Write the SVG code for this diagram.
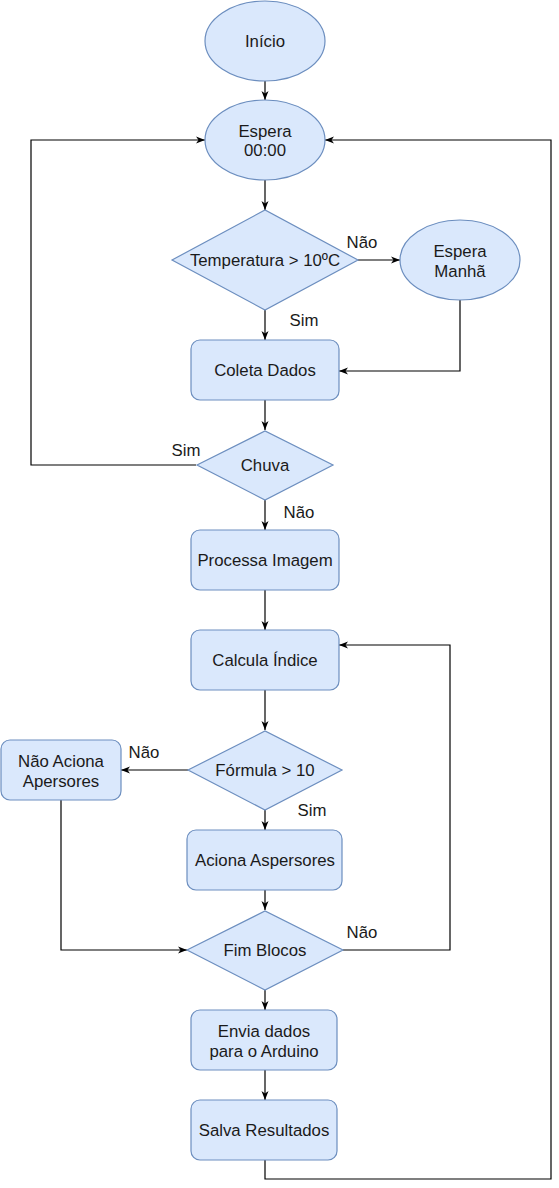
<svg xmlns="http://www.w3.org/2000/svg" width="559" height="1188" viewBox="0 0 559 1188">
  <style>
    .node { fill: #dae8fc; stroke: #6c8ebf; stroke-width: 1.2; }
    .t { font-family: "Liberation Sans", Arial, Helvetica, sans-serif; font-size: 16.8px; fill: #1a1a1a; text-anchor: middle; }
    .lbl { font-family: "Liberation Sans", Arial, Helvetica, sans-serif; font-size: 16.8px; fill: #1a1a1a; text-anchor: middle; }
    .edge { fill: none; stroke: #000; stroke-width: 1.2; marker-end: url(#arrow); }
  </style>
  <defs>
    <marker id="arrow" markerUnits="userSpaceOnUse" markerWidth="10" markerHeight="8" refX="9" refY="4" orient="auto">
      <path d="M0,0.5 L9,4 L0,7.5 L2.5,4 Z" fill="#000"/>
    </marker>
  </defs>
  <rect width="559" height="1188" fill="#fff"/>

  <g id="connectors">
    <path class="edge" d="M265,81 L265,100"/>
    <path class="edge" d="M265,180 L265,210"/>
    <path class="edge" d="M358,260 L400,260"/>
    <path class="edge" d="M265,310 L265,340"/>
    <path class="edge" d="M460,300 L460,371 L339,371"/>
    <path class="edge" d="M265,400 L265,430"/>
    <path class="edge" d="M196,465 L31,465 L31,140 L205,140"/>
    <path class="edge" d="M265,500 L265,530"/>
    <path class="edge" d="M265,590 L265,630"/>
    <path class="edge" d="M265,690 L265,730"/>
    <path class="edge" d="M188,770 L121,770"/>
    <path class="edge" d="M265,810 L265,830"/>
    <path class="edge" d="M265,890 L265,910"/>
    <path class="edge" d="M61,800 L61,950 L187,950"/>
    <path class="edge" d="M343,950 L450,950 L450,645 L339,645"/>
    <path class="edge" d="M265,990 L265,1010"/>
    <path class="edge" d="M265,1070 L265,1100"/>
    <path class="edge" d="M265,1160 L265,1179 L551,1179 L551,140 L325,140"/>
    <g id="edge-labels">
      <text class="lbl" x="362" y="248">Não</text>
      <text class="lbl" x="304" y="326">Sim</text>
      <text class="lbl" x="186" y="456">Sim</text>
      <text class="lbl" x="299" y="518">Não</text>
      <text class="lbl" x="144" y="758">Não</text>
      <text class="lbl" x="312" y="816">Sim</text>
      <text class="lbl" x="362" y="938">Não</text>
    </g>
  </g>

  <g id="inicio">
    <ellipse class="node" cx="265" cy="41" rx="60" ry="40"/>
    <text class="t" x="265" y="47">Início</text>
  </g>
  <g id="espera0000">
    <ellipse class="node" cx="265" cy="140" rx="60" ry="40"/>
    <text class="t" x="265" y="136.5">Espera</text>
    <text class="t" x="265" y="156">00:00</text>
  </g>
  <g id="temperatura">
    <polygon class="node" points="172,260 265,210 358,260 265,310"/>
    <text class="t" x="265" y="266">Temperatura &gt; 10ºC</text>
  </g>
  <g id="esperaManha">
    <ellipse class="node" cx="460" cy="260" rx="60" ry="40"/>
    <text class="t" x="460" y="256.5">Espera</text>
    <text class="t" x="460" y="276.5">Manhã</text>
  </g>
  <g id="coletaDados">
    <rect class="node" x="191" y="340" width="148" height="60" rx="9"/>
    <text class="t" x="265" y="376">Coleta Dados</text>
  </g>
  <g id="chuva">
    <polygon class="node" points="197,465 265,431 333,465 265,500"/>
    <text class="t" x="265" y="471">Chuva</text>
  </g>
  <g id="processaImagem">
    <rect class="node" x="191" y="530" width="148" height="60" rx="9"/>
    <text class="t" x="265" y="566">Processa Imagem</text>
  </g>
  <g id="calculaIndice">
    <rect class="node" x="191" y="630" width="148" height="60" rx="9"/>
    <text class="t" x="265" y="666">Calcula Índice</text>
  </g>
  <g id="formula">
    <polygon class="node" points="188,770 265,731 342,770 265,810"/>
    <text class="t" x="265" y="776">Fórmula &gt; 10</text>
  </g>
  <g id="naoAciona">
    <rect class="node" x="1" y="740" width="120" height="60" rx="9"/>
    <text class="t" x="61" y="766.5">Não Aciona</text>
    <text class="t" x="61" y="786.5">Apersores</text>
  </g>
  <g id="acionaAspersores">
    <rect class="node" x="187" y="830" width="155" height="60" rx="9"/>
    <text class="t" x="265" y="866">Aciona Aspersores</text>
  </g>
  <g id="fimBlocos">
    <polygon class="node" points="187,950 265,911 343,950 265,990"/>
    <text class="t" x="265" y="956">Fim Blocos</text>
  </g>
  <g id="enviaDados">
    <rect class="node" x="191" y="1010" width="146" height="60" rx="9"/>
    <text class="t" x="264" y="1036.5">Envia dados</text>
    <text class="t" x="264" y="1056.5">para o Arduino</text>
  </g>
  <g id="salvaResultados">
    <rect class="node" x="191" y="1100" width="146" height="60" rx="9"/>
    <text class="t" x="264" y="1136">Salva Resultados</text>
  </g>
</svg>
